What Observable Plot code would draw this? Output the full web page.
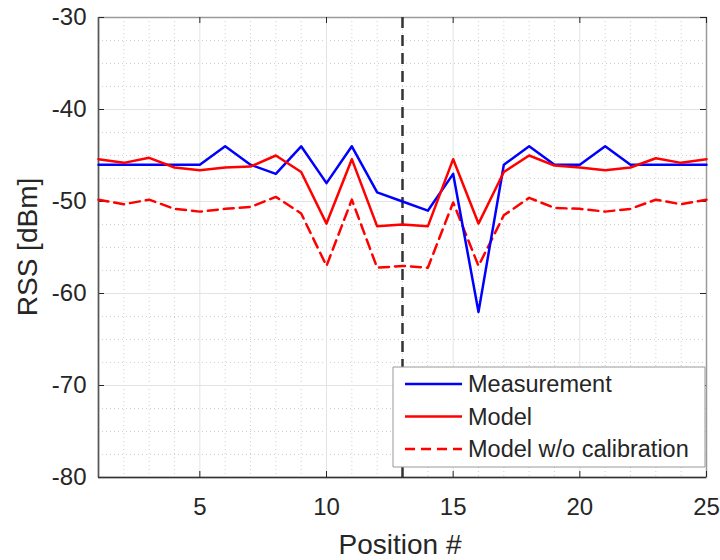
<!DOCTYPE html>
<html>
<head>
<meta charset="utf-8">
<script src="https://cdn.jsdelivr.net/npm/d3@7"></script>
<script src="https://cdn.jsdelivr.net/npm/@observablehq/plot@0.6"></script>
<style>
  html, body { margin: 0; padding: 0; background: #fff; }
  #chart { position: relative; width: 720px; height: 560px; }
</style>
</head>
<body>
<div id="chart"></div>
<script>
const positions = d3.range(1, 26);
const measurement = [-46, -46, -46, -46, -46, -44, -46, -47, -44, -48, -44, -49, -50, -51, -47, -62, -46, -44, -46, -46, -44, -46, -46, -46, -46];
const model = [-45.4, -45.8, -45.25, -46.3, -46.6, -46.3, -46.2, -45, -46.8, -52.4, -45.4, -52.7, -52.5, -52.7, -45.4, -52.4, -46.8, -45, -46.1, -46.3, -46.6, -46.3, -45.3, -45.8, -45.4];
const modelNoCal = [-49.8, -50.3, -49.8, -50.8, -51.1, -50.8, -50.6, -49.5, -51.3, -57, -49.8, -57.2, -57, -57.2, -50.1, -57, -51.5, -49.6, -50.7, -50.8, -51.1, -50.8, -49.8, -50.3, -49.8];
const seriesNames = ["Measurement", "Model", "Model w/o calibration"];
const xTicks = [5, 10, 15, 20, 25];
const xMajorGrid = [5, 10, 15, 20];
const xMinorGrid = d3.range(2, 25).filter(v => v % 5 !== 0);
const yTicks = [-80, -70, -60, -50, -40, -30];
const yMajorGrid = [-70, -60, -50, -40];
const yMinorGrid = d3.range(-77.5, -30, 2.5).filter(v => v % 10 !== 0);
const markerPosition = [13];

const rows = (vals) => positions.map((p, i) => ({x: p, y: vals[i]}));

const W = 720, H = 560, mL = 98, mR = 14, mT = 17, mB = 83;
const innerW = W - mL - mR, innerH = H - mT - mB;
const font = "Liberation Sans, Arial, Helvetica, sans-serif";
const ink = "#262626";
const LG = {x: 393, y: 367, w: 312, h: 100};
const xDomain = [1, 25], yDomain = [-80, -30];

// legend box expressed in data units, so grid/marker lines can stop at its edges
const px2x = d3.scaleLinear(xDomain, [mL, W - mR]);
const px2y = d3.scaleLinear(yDomain, [H - mB, mT]);
const lgX0 = px2x.invert(LG.x), lgX1 = px2x.invert(LG.x + LG.w);
const lgYTop = px2y.invert(LG.y), lgYBot = px2y.invert(LG.y + LG.h);

const vSegments = (xs) => xs.flatMap(x => (x > lgX0 && x < lgX1)
  ? [{x, y1: yDomain[1], y2: lgYTop}, {x, y1: lgYBot, y2: yDomain[0]}]
  : [{x, y1: yDomain[1], y2: yDomain[0]}]);
const hSegments = (ys) => ys.flatMap(y => (y < lgYTop && y > lgYBot)
  ? [{y, x1: xDomain[0], x2: lgX0}, {y, x1: lgX1, x2: xDomain[1]}]
  : [{y, x1: xDomain[0], x2: xDomain[1]}]);

const legendStyles = [
  {stroke: "#0000ff", dash: null},
  {stroke: "#ff0000", dash: null},
  {stroke: "#ff0000", dash: "10,6"}
];

function legendMark() {
  const g = d3.create("svg:g").attr("transform", `translate(${LG.x},${LG.y})`);
  g.append("path").attr("d", `M0,0H${LG.w}V${LG.h}H0Z`)
    .attr("fill", "#ffffff").attr("stroke", "#999").attr("stroke-width", 1);
  seriesNames.forEach((name, i) => {
    const yy = 17 + i * 32.5;
    g.append("line").attr("x1", 12).attr("x2", 69).attr("y1", yy).attr("y2", yy)
      .attr("stroke", legendStyles[i].stroke).attr("stroke-width", 2.5)
      .attr("stroke-dasharray", legendStyles[i].dash);
    g.append("text").attr("x", 75).attr("y", yy).attr("dy", "0.35em")
      .attr("text-anchor", "start")
      .attr("font-family", font).attr("font-size", 23.5).attr("fill", ink)
      .text(name);
  });
  return g.node();
}

const plot = Plot.plot({
  width: W, height: H,
  marginLeft: mL, marginRight: mR, marginTop: mT, marginBottom: mB,
  style: {fontFamily: font, background: "#fff", overflow: "visible"},
  x: {domain: xDomain, ticks: xTicks},
  y: {domain: yDomain, ticks: yTicks},
  marks: [
    Plot.ruleX(vSegments(xMinorGrid), {x: "x", y1: "y1", y2: "y2", stroke: "#cfcfcf", strokeDasharray: "1,3", strokeWidth: 1}),
    Plot.ruleY(hSegments(yMinorGrid), {y: "y", x1: "x1", x2: "x2", stroke: "#cfcfcf", strokeDasharray: "1,3", strokeWidth: 1}),
    Plot.ruleX(vSegments(xMajorGrid), {x: "x", y1: "y1", y2: "y2", stroke: "#e3e3e3", strokeWidth: 1}),
    Plot.ruleY(hSegments(yMajorGrid), {y: "y", x1: "x1", x2: "x2", stroke: "#e3e3e3", strokeWidth: 1}),
    Plot.frame({stroke: "#9a9a9a", strokeWidth: 1.5}),
    Plot.axisX({ticks: xTicks, tickSize: 0, tickPadding: 20, fontSize: 24, fill: ink, label: null, tickFormat: d => String(d)}),
    Plot.axisY({ticks: yTicks, tickSize: 0, tickPadding: 12, fontSize: 24, fill: ink, label: null, tickFormat: d => String(d)}),
    Plot.ruleX(xTicks, {x: d => d, insetTop: innerH - 6, stroke: ink, strokeWidth: 1}),
    Plot.ruleX(xTicks, {x: d => d, insetBottom: innerH - 6, stroke: ink, strokeWidth: 1}),
    Plot.ruleY(yTicks, {y: d => d, insetRight: innerW - 6, stroke: ink, strokeWidth: 1}),
    Plot.ruleY(yTicks, {y: d => d, insetLeft: innerW - 6, stroke: ink, strokeWidth: 1}),
    Plot.ruleX([xDomain[0]], {x: d => d, stroke: "#555", strokeWidth: 1.5}),
    Plot.ruleY([yDomain[0]], {y: d => d, stroke: "#333", strokeWidth: 1.5}),
    Plot.ruleX(vSegments(markerPosition), {x: "x", y1: "y1", y2: "y2", stroke: "#333", strokeWidth: 2.5, strokeDasharray: "11,7"}),
    Plot.line(rows(modelNoCal), {x: "x", y: "y", stroke: "#ff0000", strokeWidth: 2.5, strokeDasharray: "10,6"}),
    Plot.line(rows(measurement), {x: "x", y: "y", stroke: "#0000ff", strokeWidth: 2.5}),
    Plot.line(rows(model), {x: "x", y: "y", stroke: "#ff0000", strokeWidth: 2.5}),
    legendMark
  ]
});

const svg = d3.select(plot);
svg.append("text")
  .attr("x", mL + innerW / 2 - 2).attr("y", 554)
  .attr("text-anchor", "middle")
  .attr("font-family", font).attr("font-size", 28).attr("fill", ink)
  .text("Position #");
svg.append("text")
  .attr("transform", `translate(37,${mT + innerH / 2}) rotate(-90)`)
  .attr("text-anchor", "middle")
  .attr("font-family", font).attr("font-size", 28).attr("fill", ink)
  .text("RSS [dBm]");

document.getElementById("chart").appendChild(plot);
</script>
</body>
</html>
